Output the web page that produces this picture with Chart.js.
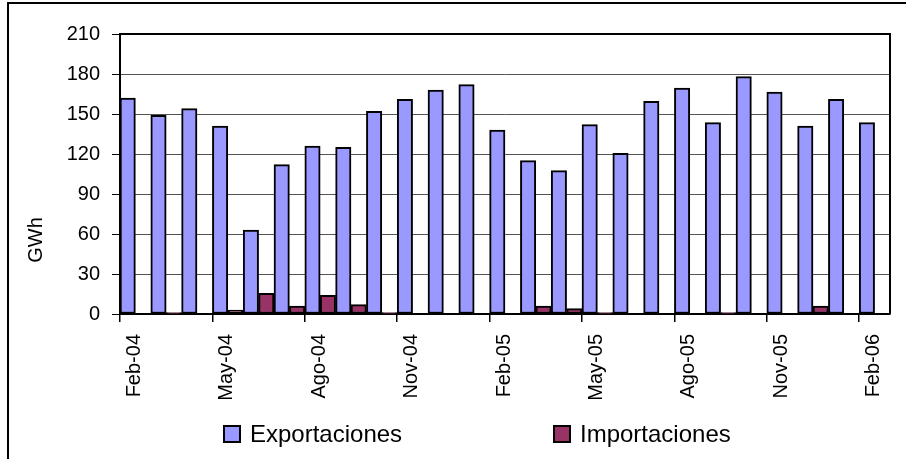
<!DOCTYPE html>
<html>
<head>
<meta charset="utf-8">
<script src="https://cdn.jsdelivr.net/npm/chart.js@4.4.1/dist/chart.umd.min.js"></script>
<style>
  body { margin: 0; background: #fff; }
  #wrap { position: relative; width: 906px; height: 459px; overflow: hidden; }
  #frame { position: absolute; left: 7px; top: 2px; width: 1000px; height: 1000px; border: 2px solid #000; box-sizing: border-box; pointer-events: none; }
  #legend { position: absolute; left: 0; top: 0; font-family: 'Liberation Sans', Arial, sans-serif; font-size: 24px; color: #000; }
  .item { position: absolute; top: 422px; height: 24px; display: flex; align-items: center; gap: 9px; white-space: nowrap; }
  .box { width: 14px; height: 14px; border: 2px solid #000; }
</style>
</head>
<body>
<div id="wrap">
  <canvas id="grafico" width="906" height="459"></canvas>
  <div id="frame"></div>
  <div id="legend"></div>
</div>
<script>
// Meses (feb-2004 a feb-2006)
const meses = ['Feb-04', 'Mar-04', 'Abr-04', 'May-04', 'Jun-04', 'Jul-04', 'Ago-04', 'Sep-04', 'Oct-04', 'Nov-04', 'Dic-04', 'Ene-05',
               'Feb-05', 'Mar-05', 'Abr-05', 'May-05', 'Jun-05', 'Jul-05', 'Ago-05', 'Sep-05', 'Oct-05', 'Nov-05', 'Dic-05', 'Ene-06', 'Feb-06'];

// Energia en GWh
const exportaciones = [162, 149, 154, 141, 63, 112, 126, 125, 152, 161, 168, 172,
                       138, 115, 107.5, 142, 120.5, 159.5, 169.5, 143.5, 178, 166.5, 141, 161, 143.5];
const importaciones = [0, 1, 0, 3, 15.5, 6, 14, 7, 1, 0, 0, 0,
                       0, 6, 4, 1, 0, 0, 0, 1, 0, 0, 6, 0, 0];

// Etiquetas del eje Y
const ticksY = [0, 30, 60, 90, 120, 150, 180, 210];

const fuente = "'Liberation Sans', Arial, sans-serif";

// Borde superior/derecho del area de trazado y titulo del eje Y
const marcoPlugin = {
    id: 'marco',
    afterDraw(chart) {
        const { ctx, chartArea: a } = chart;
        ctx.save();
        ctx.strokeStyle = '#000';
        ctx.lineWidth = 2;
        ctx.beginPath();
        ctx.moveTo(a.left, a.top);
        ctx.lineTo(a.right, a.top);
        ctx.lineTo(a.right, a.bottom);
        ctx.stroke();

        ctx.translate(36, 240);
        ctx.rotate(-Math.PI / 2);
        ctx.font = '20px ' + fuente;
        ctx.fillStyle = '#000';
        ctx.textAlign = 'center';
        ctx.textBaseline = 'middle';
        ctx.fillText('GWh', 0, 0);
        ctx.restore();
    }
};

const ctx = document.getElementById('grafico').getContext('2d');

const grafico = new Chart(ctx, {
    type: 'bar',
    data: {
        labels: meses,
        datasets: [{
            label: 'Exportaciones',
            data: exportaciones,
            backgroundColor: '#9999FF',
            borderColor: '#000',
            borderWidth: 2,
            borderSkipped: false
        }, {
            label: 'Importaciones',
            data: importaciones,
            backgroundColor: '#993366',
            borderColor: '#000',
            borderWidth: 2,
            borderSkipped: false
        }]
    },
    options: {
        responsive: false,
        animation: false,
        events: [],
        layout: { padding: { left: 10, top: 34, right: 16, bottom: 0 } },
        datasets: { bar: { categoryPercentage: 1.0, barPercentage: 1.0 } },
        plugins: {
            legend: { display: false },
            tooltip: { enabled: false }
        },
        scales: {
            x: {
                offset: true,
                afterFit: (s) => { s.height = 145; s.paddingLeft = 0; s.paddingRight = 0; },
                border: { color: '#000', width: 2 },
                grid: {
                    offset: true,
                    drawOnChartArea: false,
                    tickLength: 8,
                    lineWidth: 1.5,
                    color: (c) => (c.index % 3 === 0 ? '#000' : 'rgba(0,0,0,0)')
                },
                ticks: {
                    autoSkip: false,
                    maxRotation: 90,
                    minRotation: 90,
                    padding: 12,
                    labelOffset: -1,
                    color: '#000',
                    font: { family: fuente, size: 20 },
                    callback: (v, i) => (i % 3 === 0 ? meses[i] : '')
                }
            },
            y: {
                min: 0,
                max: 210,
                afterFit: (s) => { s.width = 110; s.paddingTop = 0; s.paddingBottom = 0; },
                afterBuildTicks: (s) => { s.ticks = ticksY.map(v => ({ value: v })); },
                border: { color: '#000', width: 2 },
                grid: { color: '#555', lineWidth: 1, tickLength: 8, tickColor: '#000' },
                ticks: {
                    padding: 12,
                    color: '#000',
                    font: { family: fuente, size: 20 }
                }
            }
        }
    },
    plugins: [marcoPlugin]
});

// Leyenda en HTML a partir de los datasets
const posLeyenda = [223, 553];
const leyenda = document.getElementById('legend');
grafico.data.datasets.forEach((ds, i) => {
    const item = document.createElement('div');
    item.className = 'item';
    item.style.left = posLeyenda[i] + 'px';
    item.innerHTML = '<span class="box" style="background:' + ds.backgroundColor + '"></span><span>' + ds.label + '</span>';
    leyenda.appendChild(item);
});
</script>
</body>
</html>
